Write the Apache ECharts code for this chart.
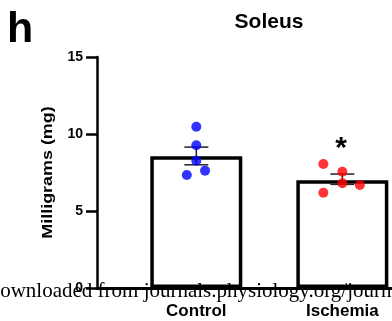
<!DOCTYPE html>
<html>
<head>
<meta charset="utf-8">
<script src="https://cdn.jsdelivr.net/npm/echarts@6/dist/echarts.min.js"></script>
<style>
  html, body { margin: 0; padding: 0; background: #fff; }
  #chart { width: 392px; height: 321px; }
</style>
</head>
<body>
<div id="chart"></div>
<script>
// 数据
const categories = ['Control', 'Ischemia'];
const barMeans = [8.55, 7.0];
const errLow = [8.0, 6.73];
const errHigh = [9.15, 7.4];
const controlValues = [10.47, 9.27, 8.27, 7.62, 7.34];
const controlJitter = [0, 0, 0, 0.06, -0.065];
const ischemiaValues = [8.05, 7.55, 6.8, 6.69, 6.19];
const ischemiaJitter = [-0.13, 0, 0, 0.12, -0.13];
const yTicks = [0, 5, 10, 15];

const chart = echarts.init(document.getElementById('chart'));
const font = 'Liberation Sans, Arial, sans-serif';

const barData = barMeans.map((v, i) => [i + 1, v]);
const errData = barMeans.map((v, i) => [i + 1, errLow[i], errHigh[i]]);
const ctrlData = controlValues.map((v, i) => [1 + controlJitter[i], v]);
const iscData = ischemiaValues.map((v, i) => [2 + ischemiaJitter[i], v]);

chart.setOption({
  animation: false,
  title: {
    text: 'Soleus',
    left: 264,
    top: 7,
    textAlign: 'center',
    textStyle: { fontFamily: font, fontWeight: 'bold', fontSize: 21, color: '#000' }
  },
  grid: { left: 97, right: 0, top: 57, bottom: 33 },
  xAxis: {
    type: 'value',
    min: 0.32,
    max: 2.34,
    splitLine: { show: false },
    axisLine: { show: true, lineStyle: { color: '#000', width: 3 } },
    axisTick: { show: false },
    axisLabel: {
      customValues: [1, 2],
      formatter: v => categories[Math.round(v) - 1] || '',
      fontFamily: font, fontWeight: 'bold', fontSize: 17, color: '#000',
      margin: 15
    }
  },
  yAxis: {
    type: 'value',
    min: 0,
    max: 15,
    interval: 5,
    splitLine: { show: false },
    axisLine: { show: true, lineStyle: { color: '#000', width: 2.5 } },
    axisTick: { show: true, inside: false, length: 11, lineStyle: { color: '#000', width: 2.5 } },
    axisLabel: {
      fontFamily: font, fontWeight: 'bold', fontSize: 14, color: '#000', margin: 14,
      formatter: v => (yTicks.includes(v) ? String(v) : '')
    }
  },
  series: [
    {
      type: 'bar',
      data: barData,
      barWidth: 92,
      itemStyle: { color: '#fff', borderColor: '#000', borderWidth: 3.5 },
      z: 2
    },
    {
      type: 'custom',
      data: errData,
      z: 3,
      renderItem: (params, api) => {
        const x = api.value(0);
        const lo = api.coord([x, api.value(1)]);
        const hi = api.coord([x, api.value(2)]);
        const hw = 12;
        const style = { stroke: '#222', lineWidth: 1.5 };
        return {
          type: 'group',
          children: [
            { type: 'line', shape: { x1: lo[0], y1: lo[1], x2: hi[0], y2: hi[1] }, style },
            { type: 'line', shape: { x1: hi[0] - hw, y1: hi[1], x2: hi[0] + hw, y2: hi[1] }, style },
            { type: 'line', shape: { x1: lo[0] - hw, y1: lo[1], x2: lo[0] + hw, y2: lo[1] }, style }
          ]
        };
      }
    },
    {
      type: 'scatter',
      data: ctrlData,
      symbolSize: 10,
      itemStyle: { color: '#0000ff' },
      z: 4
    },
    {
      type: 'scatter',
      data: iscData,
      symbolSize: 10,
      itemStyle: { color: '#ff0000' },
      z: 4
    }
  ],
  graphic: [
    {
      type: 'text',
      left: 7,
      top: 9,
      style: { text: 'h', fontFamily: font, fontWeight: 'bold', fontSize: 43, fill: '#000' }
    },
    {
      // y 轴标题（原图纵向拉伸）
      type: 'text',
      x: 48.5,
      y: 172.5,
      rotation: Math.PI / 2,
      scaleX: 1.28,
      style: {
        text: 'Milligrams (mg)', fontFamily: font, fontWeight: 'bold', fontSize: 14,
        fill: '#000', align: 'center', verticalAlign: 'middle'
      }
    },
    {
      type: 'text',
      x: 341,
      y: 134,
      style: { text: '*', fontFamily: font, fontWeight: 'bold', fontSize: 30, fill: '#000', align: 'center' }
    },
    {
      type: 'text',
      x: -15,
      y: 291,
      z: 100,
      style: {
        text: 'Downloaded from journals.physiology.org/journal/ajpendo',
        fontFamily: 'Liberation Serif, Times New Roman, serif',
        fontSize: 21,
        fill: '#000',
        verticalAlign: 'middle'
      }
    }
  ]
});
</script>
</body>
</html>
